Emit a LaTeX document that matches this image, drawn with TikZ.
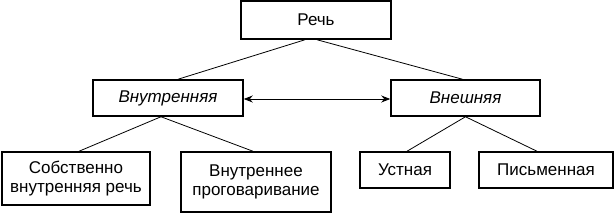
\documentclass[tikz,border=0pt]{standalone}
\usepackage{fontspec}
\setmainfont{Liberation Sans}
\usetikzlibrary{arrows.meta}
\begin{document}
\begin{tikzpicture}[x=1pt,y=-1pt,
  box/.style={draw,line width=1.5pt,inner sep=0pt,align=center,
    font=\fontsize{17}{19.5}\selectfont},
  conn/.style={line width=0.8pt}]
\useasboundingbox (0,0) rectangle (616,214);
\node[box,minimum width=150pt,minimum height=38pt] (R) at (316,20) {Речь};
\node[box,minimum width=150pt,minimum height=36pt,font=\fontsize{17}{19.5}\selectfont\itshape] (Vn) at (168,98) {Внутренняя};
\node[box,minimum width=149pt,minimum height=36pt,font=\fontsize{17}{19.5}\selectfont\itshape] (Ve) at (465.5,98) {Внешняя};
\node[box,minimum width=148pt,minimum height=53pt] (S) at (76,178.5) {Собственно\\внутренняя речь};
\node[box,minimum width=150pt,minimum height=60pt] (Vp) at (256,182) {Внутреннее\\проговаривание};
\node[box,minimum width=90pt,minimum height=36pt] (U) at (405,170) {Устная};
\node[box,minimum width=134pt,minimum height=36pt] (P) at (546,170) {Письменная};
\draw[conn] ([xshift=-11pt]R.south) -- ([xshift=10pt]Vn.north);
\draw[conn] ([xshift=1pt]R.south) -- ([xshift=-3pt]Ve.north);
\draw[conn] ([xshift=-7pt]Vn.south) -- ([xshift=3pt]S.north);
\draw[conn] ([xshift=-7pt]Vn.south) -- ([xshift=-3pt]Vp.north);
\draw[conn] (Ve.south) -- ([xshift=2pt]U.north);
\draw[conn] (Ve.south) -- ([xshift=-9pt]P.north);
\draw[conn,{Stealth[length=9pt,width=7pt]}-{Stealth[length=9pt,width=7pt]}] ([yshift=-1pt]Vn.east) -- ([yshift=-1pt]Ve.west);
\end{tikzpicture}
\end{document}
